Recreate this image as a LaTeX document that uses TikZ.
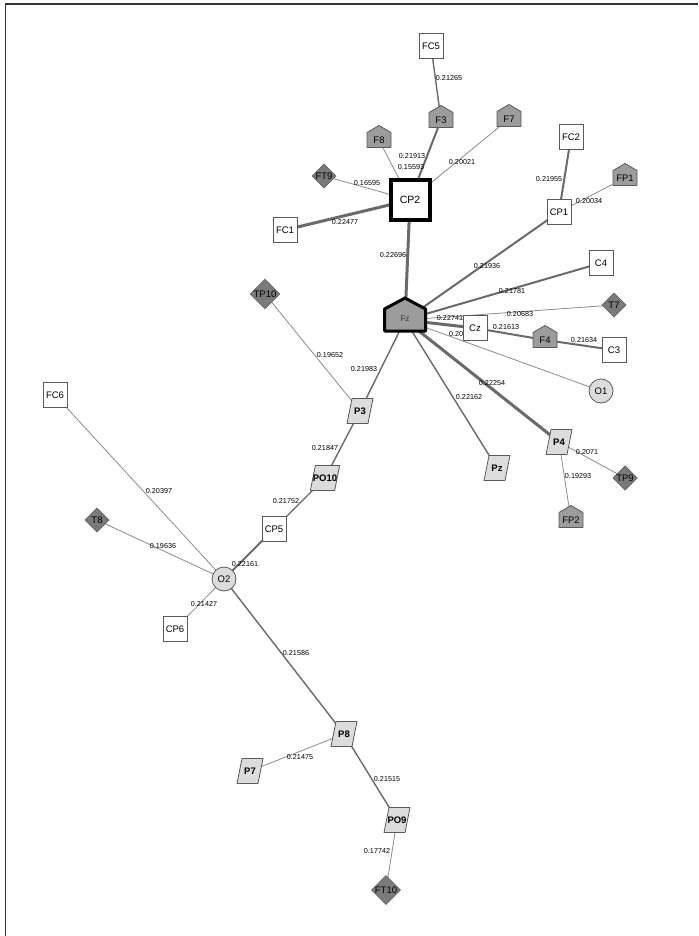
\documentclass[tikz,border=0pt]{standalone}
\usepackage{fontspec}
\setmainfont{Liberation Sans}
\usetikzlibrary{shapes.geometric}
\pgfdeclarelayer{bglayer}
\pgfdeclarelayer{edgelayer}
\pgfdeclarelayer{shapelayer}
\pgfsetlayers{bglayer,edgelayer,shapelayer,main}
\definecolor{edgedark}{HTML}{6A6A6A}
\definecolor{edgelight}{HTML}{8C8C8C}
\definecolor{bordc}{HTML}{5A5A5A}
\definecolor{pentc}{HTML}{9C9C9C}
\definecolor{diamc}{HTML}{7A7A7A}
\definecolor{lightc}{HTML}{DCDCDC}
\tikzset{
  base/.style={inner sep=0pt, outer sep=0pt, font=\fontsize{9.5}{10}\selectfont, text=black},
  sq/.style={base, draw=bordc, fill=white, line width=0.8pt, minimum width=24pt, minimum height=25pt},
  pent/.style={base, minimum width=24pt, minimum height=15pt},
  diam/.style={base, diamond, aspect=1, draw=bordc, fill=diamc, line width=0.6pt, minimum size=24pt},
  circ/.style={base, circle, draw=bordc, fill=lightc, line width=0.8pt, minimum size=24pt},
  para/.style={base, font=\fontsize{9.5}{10}\selectfont\bfseries, minimum width=21pt, minimum height=25pt},
  pentshape/.style={draw=bordc, fill=pentc, line width=0.8pt, line join=round},
  parashape/.style={draw=bordc, fill=lightc, line width=0.8pt, line join=round},
  lab/.style={font=\fontsize{7.2}{8}\selectfont, inner sep=0pt, text=black},
  thick3/.style={draw=edgedark, line width=3pt},
  med2/.style={draw=edgedark, line width=2pt},
  med15/.style={draw=edgedark, line width=1.4pt},
  thin1/.style={draw=edgelight, line width=0.8pt},
}
\begin{document}
\begin{tikzpicture}[x=1pt,y=-1pt]
\useasboundingbox (0,0) rectangle (698,936);
\begin{pgfonlayer}{bglayer}
\fill[white] (0,0) rectangle (698,936);
\end{pgfonlayer}
\draw[line width=1.5pt, black!80] (5.5,936) -- (5.5,4) -- (698,4);

% nodes
\node[sq] (FC5) at (431,46) {FC5};
\node[pent] (F3) at (441,120) {F3};
\node[pent] (F7) at (509,119) {F7};
\node[pent] (F8) at (379,140) {F8};
\node[diam] (FT9) at (324,176) {FT9};
\node[base, draw=black, fill=white, line width=4pt, minimum size=39pt, font=\fontsize{10.5}{11}\selectfont] (CP2) at (410,200) {CP2};
\node[sq] (FC1) at (285,230) {FC1};
\node[sq] (FC2) at (571,137) {FC2};
\node[pent] (FP1) at (625,178) {FP1};
\node[sq] (CP1) at (559,212) {CP1};
\node[sq] (C4) at (601,263) {C4};
\node[diam] (T7) at (614,305) {T7};
\node[base, minimum width=41pt, minimum height=22pt, font=\fontsize{8}{9}\selectfont, text=black!80] (Fz) at (405,320) {\raisebox{3pt}{Fz}};
\node[sq] (Cz) at (475,328) {Cz};
\node[pent] (F4) at (545,340) {F4};
\node[sq] (C3) at (614,350) {C3};
\node[circ] (O1) at (601,391) {O1};
\node[para] (P4) at (559,442) {P4};
\node[para] (Pz) at (497,468) {Pz};
\node[diam] (TP9) at (625,478) {TP9};
\node[pent] (FP2) at (571,520) {FP2};
\node[diam] (TP10) at (265,294) {TP10};
\node[para] (P3) at (360,411) {P3};
\node[sq] (FC6) at (55,395) {FC6};
\node[para] (PO10) at (325,478) {PO10};
\node[sq] (CP5) at (274,529) {CP5};
\node[diam] (T8) at (97,520) {T8};
\node[circ] (O2) at (224,579) {O2};
\node[sq] (CP6) at (175,629) {CP6};
\node[para] (P8) at (344,734) {P8};
\node[para] (P7) at (250,771) {P7};
\node[para] (PO9) at (397,820) {PO9};
\node[diam] (FT10) at (386,890) {FT10};

% custom shapes
\begin{pgfonlayer}{shapelayer}
\foreach \n in {F3,F7,F8,FP1,F4,FP2}
  \filldraw[pentshape] (\n.south west) -- (\n.south east) -- (\n.north east) -- ([yshift=7pt]\n.north) -- (\n.north west) -- cycle;
\foreach \n in {P3,PO10,P4,Pz,P8,P7,PO9}
  \filldraw[parashape] ([xshift=-2.5pt]\n.south west) -- ([xshift=-2.5pt]\n.south east) -- ([xshift=2.5pt]\n.north east) -- ([xshift=2.5pt]\n.north west) -- cycle;
\filldraw[draw=black, fill=pentc, line width=3pt, line join=round] (Fz.south west) -- (Fz.south east) -- (Fz.north east) -- ([yshift=11pt]Fz.north) -- (Fz.north west) -- cycle;
\end{pgfonlayer}

% edges
\begin{pgfonlayer}{edgelayer}
\draw[med15] (FC5.center) -- (F3.center);
\draw[med2] (F3.center) -- (CP2.center);
\draw[thin1] (F8.center) -- (CP2.center);
\draw[thin1] (F7.center) -- (CP2.center);
\draw[thin1] (FT9.center) -- (CP2.center);
\draw[thick3] (FC1.center) -- (CP2.center);
\draw[thick3] (CP2.center) -- (Fz.center);
\draw[med2] (FC2.center) -- (CP1.center);
\draw[thin1] (FP1.center) -- (CP1.center);
\draw[med2] (CP1.center) -- (Fz.center);
\draw[med2] (C4.center) -- (Fz.center);
\draw[thin1] (T7.center) -- (Fz.center);
\draw[thick3] (Cz.center) -- (Fz.center);
\draw[med2] (Cz.center) -- (F4.center);
\draw[med2] (F4.center) -- (C3.center);
\draw[thin1] (O1.center) -- (Fz.center);
\draw[thick3] (P4.center) -- (Fz.center);
\draw[med15] (Pz.center) -- (Fz.center);
\draw[thin1] (P4.center) -- (TP9.center);
\draw[thin1] (P4.center) -- (FP2.center);
\draw[med15] (P3.center) -- (Fz.center);
\draw[thin1] (TP10.center) -- (P3.center);
\draw[med15] (P3.center) -- (PO10.center);
\draw[med15] (PO10.center) -- (CP5.center);
\draw[med2] (CP5.center) -- (O2.center);
\draw[thin1] (FC6.center) -- (O2.center);
\draw[thin1] (T8.center) -- (O2.center);
\draw[thin1] (CP6.center) -- (O2.center);
\draw[med15] (O2.center) -- (P8.center);
\draw[thin1] (P8.center) -- (P7.center);
\draw[med15] (P8.center) -- (PO9.center);
\draw[thin1] (PO9.center) -- (FT10.center);
\end{pgfonlayer}

% edge labels
\node[lab] (l1) at (449,78) {0.21265};
\node[lab] (l2) at (412,156) {0.21913};
\node[lab] (l3) at (411,167) {0.15593};
\node[lab] (l4) at (462,162) {0.20021};
\node[lab] (l5) at (367,183) {0.16595};
\node[lab] (l6) at (345,222) {0.22477};
\node[lab] (l7) at (393,255) {0.22696};
\node[lab] (l8) at (549,179) {0.21955};
\node[lab] (l9) at (589,201) {0.20034};
\node[lab] (l10) at (487,266) {0.21936};
\node[lab] (l11) at (512,291) {0.21781};
\node[lab] (l12) at (520,314) {0.20683};
\node[lab] (l13) at (450,318) {0.22741};
\node[lab] (l14) at (506,327) {0.21613};
\node[lab] (l15) at (584,340) {0.21634};
\node[lab] (l16) at (456,334) {0.20};
\node[lab] (l17) at (492,383) {0.22254};
\node[lab] (l18) at (469,397) {0.22162};
\node[lab] (l19) at (587,452) {0.2071};
\node[lab] (l20) at (578,476) {0.19293};
\node[lab] (l21) at (364,369) {0.21983};
\node[lab] (l22) at (330,355) {0.19652};
\node[lab] (l23) at (325,448) {0.21847};
\node[lab] (l24) at (286,501) {0.21752};
\node[lab] (l25) at (245,564) {0.22161};
\node[lab] (l26) at (159,491) {0.20397};
\node[lab] (l27) at (163,546) {0.19636};
\node[lab] (l28) at (204,604) {0.21427};
\node[lab] (l29) at (296,653) {0.21586};
\node[lab] (l30) at (300,757) {0.21475};
\node[lab] (l31) at (387,779) {0.21515};
\node[lab] (l32) at (377,851) {0.17742};
\end{tikzpicture}
\end{document}
